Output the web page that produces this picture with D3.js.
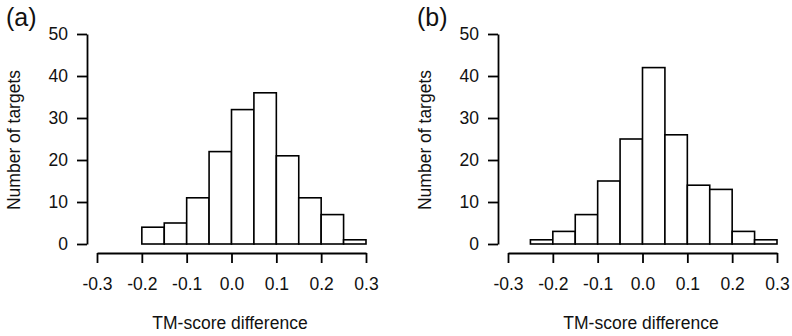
<!DOCTYPE html>
<html>
<head>
<meta charset="utf-8">
<script src="https://cdn.jsdelivr.net/npm/d3@7"></script>
<style>
  body { margin: 0; background: #fff; }
  svg text { font-family: "Liberation Sans", Arial, Helvetica, sans-serif; fill: #111; }
</style>
</head>
<body>
<svg id="chart" width="792" height="336"></svg>
<script>
// histogram bins (width 0.05) and counts for each panel
const binWidth = 0.05;
const startA = -0.2;
const countsA = [4, 5, 11, 22, 32, 36, 21, 11, 7, 1];
const startB = -0.25;
const countsB = [1, 3, 7, 15, 25, 42, 26, 14, 13, 3, 1];
const xTicks = [-0.3, -0.2, -0.1, 0.0, 0.1, 0.2, 0.3];
const yTicks = [0, 10, 20, 30, 40, 50];
const panels = [
  { tag: '(a)', start: startA, counts: countsA, ox: 0 },
  { tag: '(b)', start: startB, counts: countsB, ox: 411 }
];

const fontSize = 17.5;
const svg = d3.select('#chart');

panels.forEach(p => {
  const g = svg.append('g').attr('transform', `translate(${p.ox},0)`);

  const x = d3.scaleLinear().domain([-0.3, 0.3]).range([97, 366]);
  const y = d3.scaleLinear().domain([0, 50]).range([244, 34]);

  const bins = p.counts.map((c, i) => ({ x0: p.start + i * binWidth, x1: p.start + (i + 1) * binWidth, n: c }));

  // bars
  g.append('g').selectAll('rect')
    .data(bins)
    .enter()
    .append('rect')
    .attr('x', d => x(d.x0))
    .attr('y', d => y(d.n))
    .attr('width', d => x(d.x1) - x(d.x0))
    .attr('height', d => y(0) - y(d.n))
    .attr('fill', '#fff')
    .attr('stroke', '#000')
    .attr('stroke-width', 1.6);

  // y axis (R style, detached)
  const yAxis = g.append('g')
    .attr('transform', 'translate(87,0)')
    .call(d3.axisLeft(y).tickValues(yTicks).tickSize(10).tickSizeOuter(0).tickPadding(9).tickFormat(d3.format('d')));
  yAxis.select('.domain').attr('stroke-width', 1.8);
  yAxis.selectAll('.tick line').attr('stroke-width', 1.8);
  yAxis.selectAll('.tick text').attr('font-size', fontSize).attr('fill', '#111')
    .attr('font-family', '"Liberation Sans", Arial, sans-serif');

  // x axis
  const xAxis = g.append('g')
    .attr('transform', 'translate(0,253)')
    .call(d3.axisBottom(x).tickValues(xTicks).tickSize(10).tickSizeOuter(0).tickPadding(15).tickFormat(d3.format('.1f')));
  xAxis.select('.domain').attr('stroke-width', 1.8);
  xAxis.selectAll('.tick line').attr('stroke-width', 1.8);
  xAxis.selectAll('.tick text').attr('font-size', fontSize).attr('fill', '#111')
    .attr('font-family', '"Liberation Sans", Arial, sans-serif')
    .text(d => d3.format('.1f')(d).replace('−', '-'));

  // titles
  g.append('text')
    .attr('x', 230).attr('y', 329)
    .attr('text-anchor', 'middle')
    .attr('font-size', fontSize)
    .text('TM-score difference');

  g.append('text')
    .attr('transform', 'translate(20,140) rotate(-90)')
    .attr('text-anchor', 'middle')
    .attr('font-size', fontSize)
    .text('Number of targets');

  g.append('text')
    .attr('x', 6).attr('y', 26)
    .attr('font-size', 25)
    .text(p.tag);
});
</script>
</body>
</html>
